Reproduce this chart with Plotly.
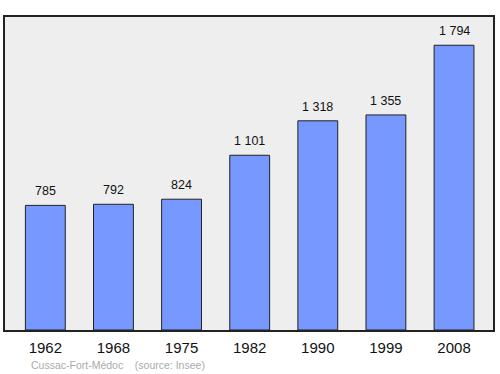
import plotly.graph_objects as go

years = ["1962", "1968", "1975", "1982", "1990", "1999", "2008"]
population = [785, 792, 824, 1101, 1318, 1355, 1794]
labels = ["785", "792", "824", "1 101", "1 318", "1 355", "1 794"]
footer = "Cussac-Fort-Médoc\u00a0\u00a0\u00a0\u00a0(source: Insee)"

fig = go.Figure()
fig.add_trace(go.Bar(
    x=years, y=population, width=0.585,
    marker=dict(color="#7799ff", line=dict(color="#222222", width=1)),
    hoverinfo="skip",
))

annotations = [dict(
    x=i, y=v, text=t, xref="x", yref="y", showarrow=False,
    yanchor="middle", yshift=14,
    font=dict(family="Liberation Sans", size=12.5, color="#111111"),
) for i, (v, t) in enumerate(zip(population, labels))]

annotations.append(dict(
    text=footer, xref="paper", yref="paper", x=(29 - 5) / 490, y=(330 - 365) / 313,
    xanchor="left", yanchor="middle", showarrow=False,
    font=dict(family="Liberation Sans", size=10.5, color="#aaaaaa"),
))

fig.update_layout(
    width=500, height=374,
    margin=dict(l=5, r=5, t=17, b=44),
    paper_bgcolor="white", plot_bgcolor="#eeeeee",
    showlegend=False,
    font=dict(family="Liberation Sans"),
    xaxis=dict(
        type="category", range=[-0.592, 6.572],
        showline=True, mirror=True, linecolor="#222222", linewidth=1.5,
        ticks="outside", ticklen=3, tickcolor="rgba(0,0,0,0)",
        tickfont=dict(family="Liberation Sans", size=15, color="#111111"),
        showgrid=False, zeroline=False, fixedrange=True,
    ),
    yaxis=dict(
        range=[0, 1972], showticklabels=False, showgrid=False, zeroline=False,
        showline=True, mirror=True, linecolor="#222222", linewidth=1.5,
        ticks="", fixedrange=True,
    ),
    annotations=annotations,
)

fig.write_html("out.html")
